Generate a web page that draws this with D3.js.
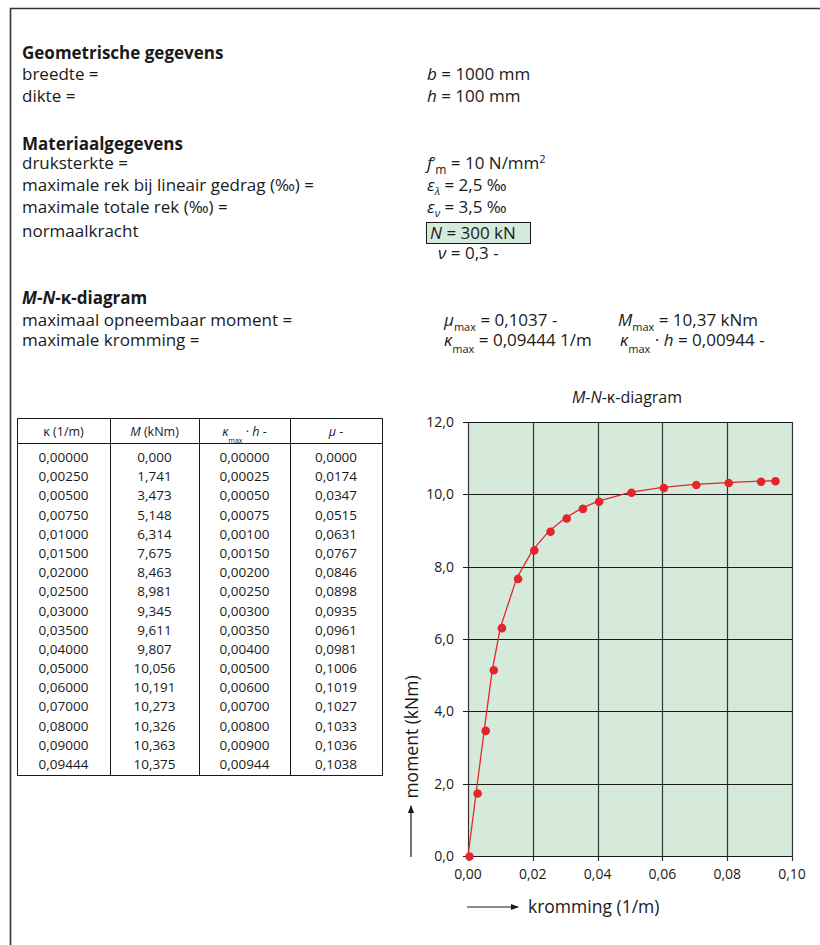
<!DOCTYPE html>
<html>
<head>
<meta charset="utf-8">
<script src="https://cdn.jsdelivr.net/npm/d3@7"></script>
<style>
  html, body { margin: 0; padding: 0; background: #fff; }
  svg { display: block; }
  text { font-family: "Open Sans", "Noto Sans", sans-serif; fill: #1a1a1a; }
</style>
</head>
<body>
<svg id="chart" width="820" height="945"></svg>
<script>
// ---------- DATA ----------
const kappa  = [0.00000, 0.00250, 0.00500, 0.00750, 0.01000, 0.01500, 0.02000, 0.02500, 0.03000, 0.03500, 0.04000, 0.05000, 0.06000, 0.07000, 0.08000, 0.09000, 0.09444];
const moment = [0.000, 1.741, 3.473, 5.148, 6.314, 7.675, 8.463, 8.981, 9.345, 9.611, 9.807, 10.056, 10.191, 10.273, 10.326, 10.363, 10.375];
const kappaH = [0.00000, 0.00025, 0.00050, 0.00075, 0.00100, 0.00150, 0.00200, 0.00250, 0.00300, 0.00350, 0.00400, 0.00500, 0.00600, 0.00700, 0.00800, 0.00900, 0.00944];
const mu     = [0.0000, 0.0174, 0.0347, 0.0515, 0.0631, 0.0767, 0.0846, 0.0898, 0.0935, 0.0961, 0.0981, 0.1006, 0.1019, 0.1027, 0.1033, 0.1036, 0.1038];
const xTicks = [0, 0.02, 0.04, 0.06, 0.08, 0.10];
const yTicks = [0, 2, 4, 6, 8, 10, 12];

// ---------- SETUP ----------
const nl = d3.formatLocale({decimal: ",", thousands: ".", grouping: [3], currency: ["", ""]});
const svg = d3.select("#chart");
const ink = "#1a1a1a";
const red = "#e3262a";
const green = "#d6eadb";

// frame
svg.append("path").attr("d", "M10.5,945 V8.5 H820")
  .attr("fill", "none").attr("stroke", "#333").attr("stroke-width", 1.6);

// ---------- TOP TEXT ----------
const FS = 17;
const leftX = 22, valX = 427;
function line(x, y, parts, opts = {}) {
  const t = svg.append("text").attr("x", x).attr("y", y)
    .attr("font-size", opts.size || FS).attr("font-weight", opts.bold ? "bold" : "normal");
  parts.forEach(p => {
    const s = t.append("tspan").text(p.t);
    if (p.i) s.attr("font-style", "italic");
    if (p.fs) s.attr("font-size", p.fs);
    if (p.sub) s.attr("dy", p.sub);
    if (p.up) s.attr("dy", p.up);
    if (p.dx) s.attr("dx", p.dx);
  });
  return t;
}

line(leftX, 59, [{t: "Geometrische gegevens"}], {bold: true});
line(leftX, 80, [{t: "breedte ="}]);
line(valX, 80, [{t: "b", i: true}, {t: " = 1000 mm"}]);
line(leftX, 102, [{t: "dikte ="}]);
line(valX, 102, [{t: "h", i: true}, {t: " = 100 mm"}]);

line(leftX, 150, [{t: "Materiaalgegevens"}], {bold: true});
line(leftX, 169, [{t: "druksterkte ="}]);
line(valX, 169, [{t: "f", i: true}, {t: "′", up: -2, fs: 13}, {t: "m", sub: 7, fs: 12}, {t: " = 10 N/mm", up: -5}, {t: "2", sub: -6, fs: 11}]);
line(leftX, 191, [{t: "maximale rek bij lineair gedrag (‰) ="}]);
line(valX, 191, [{t: "ε", i: true}, {t: "λ", sub: 4, fs: 11, i: true}, {t: " = 2,5 ‰", up: -4}]);
line(leftX, 213, [{t: "maximale totale rek (‰) ="}]);
line(valX, 213, [{t: "ε", i: true}, {t: "ν", sub: 4, fs: 11, i: true}, {t: " = 3,5 ‰", up: -4}]);
line(leftX, 237, [{t: "normaalkracht"}]);
svg.append("rect").attr("x", 426.5).attr("y", 222.5).attr("width", 104).attr("height", 21)
  .attr("fill", green).attr("stroke", ink).attr("stroke-width", 1);
line(430, 239, [{t: "N", i: true}, {t: " = 300 kN"}]);
line(438, 259, [{t: "ν", i: true}, {t: " = 0,3 -"}]);

line(leftX, 304, [{t: "M", i: true}, {t: "-"}, {t: "N", i: true}, {t: "-"}, {t: "κ"}, {t: "-diagram"}], {bold: true});
line(leftX, 326, [{t: "maximaal opneembaar moment ="}]);
line(444, 326, [{t: "μ", i: true}, {t: "max", sub: 5, fs: 11}, {t: " = 0,1037 -", up: -5}]);
line(618, 326, [{t: "M", i: true}, {t: "max", sub: 5, fs: 11}, {t: " = 10,37 kNm", up: -5}]);
line(leftX, 346, [{t: "maximale kromming ="}]);
line(444, 346, [{t: "κ", i: true}, {t: "max", sub: 7, fs: 11}, {t: " = 0,09444 1/m", up: -7}]);
line(620, 346, [{t: "κ", i: true}, {t: "max", sub: 7, fs: 11}, {t: " · ", up: -7}, {t: "h", i: true}, {t: " = 0,00944 -"}]);

// ---------- TABLE ----------
const tbl = {left: 17, right: 382, top: 418, head: 443, bottom: 775};
const colEdges = [17, 110, 199, 290, 382];
const rowY = d3.scaleLinear().domain([0, 16]).range([457, 764]);
const tg = svg.append("g");
tg.append("rect").attr("x", tbl.left + 0.5).attr("y", tbl.top + 0.5)
  .attr("width", tbl.right - tbl.left).attr("height", tbl.bottom - tbl.top)
  .attr("fill", "none").attr("stroke", ink).attr("stroke-width", 1);
tg.append("line").attr("x1", tbl.left).attr("x2", tbl.right).attr("y1", tbl.head + 0.5).attr("y2", tbl.head + 0.5)
  .attr("stroke", ink);
tg.selectAll("line.col").data(colEdges.slice(1, 4)).join("line").attr("class", "col")
  .attr("x1", d => d + 0.5).attr("x2", d => d + 0.5).attr("y1", tbl.top).attr("y2", tbl.bottom)
  .attr("stroke", ink);
const colC = d3.range(4).map(i => (colEdges[i] + colEdges[i + 1]) / 2);

// headers
function hdr(i, parts) {
  const t = tg.append("text").attr("x", colC[i]).attr("y", 436).attr("text-anchor", "middle").attr("font-size", 12.5);
  parts.forEach(p => {
    const s = t.append("tspan").text(p.t);
    if (p.i) s.attr("font-style", "italic");
    if (p.sub) s.attr("font-size", 7).attr("dy", p.sub);
    if (p.up) s.attr("dy", p.up);
    if (p.dx) s.attr("dx", p.dx);
  });
}
hdr(0, [{t: "κ"}, {t: " (1/m)"}]);
hdr(1, [{t: "M", i: true}, {t: " (kNm)"}]);
hdr(2, [{t: "κ", i: true}, {t: "max", sub: 7}, {t: " · ", up: -7}, {t: "h", i: true}, {t: " -"}]);
hdr(3, [{t: "μ", i: true}, {t: " -"}]);

const rows = kappa.map((k, i) => [nl.format(".5f")(k), nl.format(".3f")(moment[i]), nl.format(".5f")(kappaH[i]), nl.format(".4f")(mu[i])]);
rows.forEach((r, ri) => {
  r.forEach((v, ci) => {
    tg.append("text").attr("x", colC[ci]).attr("y", rowY(ri) + 5)
      .attr("text-anchor", "middle").attr("font-size", 13.5).text(v);
  });
});

// ---------- CHART ----------
const x = d3.scaleLinear().domain([0, 0.10]).range([468, 792]);
const y = d3.scaleLinear().domain([0, 12]).range([856, 422]);
const cg = svg.append("g");
cg.append("rect").attr("x", x(0)).attr("y", y(12)).attr("width", x(0.1) - x(0)).attr("height", y(0) - y(12))
  .attr("fill", green);
cg.selectAll("line.vg").data(xTicks).join("line").attr("class", "vg")
  .attr("x1", d => Math.round(x(d)) + 0.5).attr("x2", d => Math.round(x(d)) + 0.5)
  .attr("y1", y(12)).attr("y2", y(0) + 5).attr("stroke", "#333").attr("stroke-width", 1.2);
cg.selectAll("line.hg").data(yTicks).join("line").attr("class", "hg")
  .attr("y1", d => Math.round(y(d)) + 0.5).attr("y2", d => Math.round(y(d)) + 0.5)
  .attr("x1", x(0) - 5).attr("x2", x(0.1)).attr("stroke", ink).attr("stroke-width", 1.2);

cg.selectAll("text.yt").data(yTicks).join("text").attr("class", "yt")
  .attr("x", x(0) - 14).attr("y", d => y(d) + 5).attr("text-anchor", "end").attr("font-size", 14)
  .text(d => nl.format(".1f")(d));
cg.selectAll("text.xt").data(xTicks).join("text").attr("class", "xt")
  .attr("x", d => x(d)).attr("y", y(0) + 23).attr("text-anchor", "middle").attr("font-size", 14)
  .text(d => nl.format(".2f")(d));

const pts = kappa.map((k, i) => [k, moment[i]]);
cg.append("path").datum(pts)
  .attr("d", d3.line().x(d => x(d[0])).y(d => y(d[1])))
  .attr("fill", "none").attr("stroke", red).attr("stroke-width", 1.3);
cg.selectAll("circle").data(pts).join("circle")
  .attr("cx", d => x(d[0]) + 1.5).attr("cy", d => y(d[1]) + 0.5).attr("r", 4.3).attr("fill", red);

// title
const tt = svg.append("text").attr("x", 627).attr("y", 403).attr("text-anchor", "middle").attr("font-size", 16);
tt.append("tspan").attr("font-style", "italic").text("M");
tt.append("tspan").text("-");
tt.append("tspan").attr("font-style", "italic").text("N");
tt.append("tspan").text("-κ-diagram");

// axis labels with arrows
const defs = svg.append("defs");
defs.append("marker").attr("id", "ah").attr("viewBox", "0 0 10 10").attr("refX", 9).attr("refY", 5)
  .attr("markerWidth", 8).attr("markerHeight", 8).attr("markerUnits", "userSpaceOnUse").attr("orient", "auto")
  .append("path").attr("d", "M0,1 L10,5 L0,9 Z").attr("fill", ink);

svg.append("text").attr("transform", `translate(418,737) rotate(-90)`).attr("text-anchor", "middle")
  .attr("font-size", 17.5).text("moment (kNm)");
svg.append("line").attr("x1", 411).attr("x2", 411).attr("y1", 857).attr("y2", 806)
  .attr("stroke", ink).attr("stroke-width", 1.2).attr("marker-end", "url(#ah)");

svg.append("text").attr("x", 528).attr("y", 913).attr("font-size", 17.5).text("kromming (1/m)");
svg.append("line").attr("x1", 467).attr("x2", 518).attr("y1", 907).attr("y2", 907)
  .attr("stroke", ink).attr("stroke-width", 1.2).attr("marker-end", "url(#ah)");
</script>
</body>
</html>
